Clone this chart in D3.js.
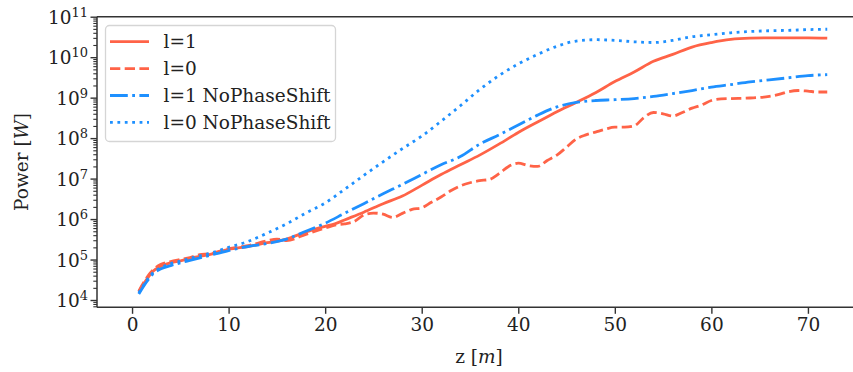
<!DOCTYPE html>
<meta charset='utf-8'>
<head>
  <title>Power vs z</title>
  <style>
    body { margin: 0; background: #fff; }
    svg text { font-family: 'DejaVu Serif', serif; fill: #222; }
  </style>
</head>
<body>
  <div id='chart'></div>
</body>
<script src='https://d3js.org/d3.v7.min.js'></script>
<script>

// z positions [m] and power [W], one pair of arrays per run
var zL1 = [0.7, 1.5, 2.2, 3, 4, 5, 6, 8, 10, 12, 14, 16, 18, 20, 21, 22, 24, 26, 28, 30,
           32, 34, 36, 38, 40, 42, 44, 46, 48, 50, 52, 54, 56, 58, 60, 62, 64, 66, 68, 70, 72];
var pL1 = [1.6e4, 3.2e4, 5.2e4, 6.9e4, 8.3e4, 9.3e4, 1.07e5, 1.32e5, 1.78e5, 2.1e5, 2.6e5, 3.2e5,
           4.8e5, 6.6e5, 7.6e5, 9.5e5, 1.48e6, 2.4e6, 3.7e6, 6.8e6, 1.26e7, 2.2e7, 3.8e7, 7.1e7,
           1.38e8, 2.5e8, 4.5e8, 7.6e8, 1.32e9, 2.5e9, 4.3e9, 7.9e9, 1.17e10, 1.78e10, 2.3e10,
           2.75e10, 2.95e10, 3.0e10, 3.0e10, 3.0e10, 2.95e10];

var zL0 = [0.7, 1.5, 2.2, 3, 4, 5, 6, 7, 8, 10, 12, 14, 15, 16, 18, 20, 21, 22, 23, 24, 25, 26,
           27, 28, 29, 30, 31, 32, 33, 34, 35, 36, 37, 38, 39, 40, 41, 42, 43, 44, 45, 46, 47, 48,
           49, 50, 51, 52, 53, 54, 55, 56, 57, 58, 59, 60, 61, 62, 64, 66, 67, 68, 69, 70, 71, 72];
var pL0 = [1.66e4, 3.5e4, 5.6e4, 7.6e4, 8.9e4, 1.0e5, 1.12e5, 1.32e5, 1.38e5, 1.86e5, 2.2e5,
           2.9e5, 3.2e5, 2.95e5, 4.2e5, 6.0e5, 7.1e5, 7.6e5, 8.7e5, 1.26e6, 1.41e6, 1.32e6, 1.1e6,
           1.38e6, 1.74e6, 1.9e6, 2.6e6, 3.5e6, 5.0e6, 6.6e6, 7.9e6, 8.9e6, 9.5e6, 1.32e7, 2.0e7,
           2.4e7, 2.1e7, 2.0e7, 2.8e7, 3.8e7, 6.0e7, 9.5e7, 1.2e8, 1.41e8, 1.66e8, 1.86e8, 1.86e8,
           2.0e8, 3.2e8, 4.3e8, 4.0e8, 3.5e8, 4.3e8, 5.5e8, 6.6e8, 8.5e8, 9.3e8, 9.5e8, 9.8e8,
           1.07e9, 1.2e9, 1.41e9, 1.5e9, 1.45e9, 1.38e9, 1.38e9];

var zL1NoShift = [0.7, 1.5, 2.2, 3, 4, 5, 6, 8, 10, 12, 14, 16, 18, 20, 22, 24, 26, 28, 30, 32,
                  34, 36, 38, 40, 42, 44, 46, 48, 50, 52, 54, 56, 58, 60, 62, 64, 66, 68, 70, 72];
var pL1NoShift = [1.41e4, 2.8e4, 4.5e4, 5.9e4, 7.1e4, 8.3e4, 9.5e4, 1.26e5, 1.66e5, 2.1e5, 2.5e5,
                  3.2e5, 5.0e5, 7.9e5, 1.38e6, 2.4e6, 4.2e6, 7.2e6, 1.26e7, 2.2e7, 3.5e7, 7.1e7,
                  1.2e8, 2.1e8, 3.7e8, 5.9e8, 7.6e8, 8.5e8, 8.9e8, 9.5e8, 1.07e9, 1.26e9, 1.5e9,
                  1.82e9, 2.1e9, 2.45e9, 2.75e9, 3.1e9, 3.5e9, 3.7e9];

var zL0NoShift = [0.7, 1.5, 2.2, 3, 4, 5, 6, 8, 10, 12, 14, 16, 18, 20, 22, 24, 26, 28, 30, 32,
                  34, 36, 38, 40, 42, 44, 46, 48, 50, 52, 54, 56, 58, 60, 62, 64, 66, 68, 70, 72];
var pL0NoShift = [1.5e4, 3.0e4, 4.8e4, 6.3e4, 7.9e4, 9.1e4, 1.07e5, 1.41e5, 2.0e5, 2.8e5, 4.5e5,
                  7.6e5, 1.41e6, 2.5e6, 5.4e6, 1.2e7, 2.6e7, 5.5e7, 1.12e8, 2.6e8, 6.3e8, 1.58e9,
                  3.5e9, 6.8e9, 1.17e10, 1.86e10, 2.5e10, 2.7e10, 2.6e10, 2.4e10, 2.3e10, 2.6e10,
                  3.2e10, 3.6e10, 4.0e10, 4.3e10, 4.5e10, 4.6e10, 4.8e10, 4.9e10];

var seriesNames = ['l=1', 'l=0', 'l=1 NoPhaseShift', 'l=0 NoPhaseShift'];
var xTicks = [0, 10, 20, 30, 40, 50, 60, 70];
var yExponents = [4, 5, 6, 7, 8, 9, 10, 11];

var width = 853,
    height = 372,
    margin = {left: 97, top: 16.7, bottom: 307.3, right: 862};

var series = [
  {name: seriesNames[0], z: zL1, p: pL1, color: 'tomato', dash: null},
  {name: seriesNames[1], z: zL0, p: pL0, color: 'tomato', dash: '10.3,4.4'},
  {name: seriesNames[2], z: zL1NoShift, p: pL1NoShift, color: 'dodgerblue', dash: '17.8,4.4,2.8,4.4'},
  {name: seriesNames[3], z: zL0NoShift, p: pL0NoShift, color: 'dodgerblue', dash: '2.8,4.6'}
];

var x = d3.scaleLinear().domain([-3.63, 75.6]).range([margin.left, margin.right]);
var y = d3.scaleLog().domain([Math.pow(10, 3.82), 1e11]).range([margin.bottom, margin.top]);

var svg = d3.select('#chart').append('svg')
    .attr('width', width)
    .attr('height', height);

var plot = svg.append('g');

svg.append('clipPath').attr('id', 'clip')
  .append('rect')
    .attr('x', margin.left).attr('y', margin.top)
    .attr('width', margin.right - margin.left)
    .attr('height', margin.bottom - margin.top);

var line = d3.line()
    .x(function(d) { return x(d[0]); })
    .y(function(d) { return y(d[1]); })
    .curve(d3.curveMonotoneX);

plot.selectAll('path.series')
    .data(series)
  .enter().append('path')
    .attr('class', 'series')
    .attr('clip-path', 'url(#clip)')
    .attr('d', function(s) { return line(d3.zip(s.z, s.p)); })
    .attr('fill', 'none')
    .attr('stroke', function(s) { return s.color; })
    .attr('stroke-width', 2.8)
    .attr('stroke-dasharray', function(s) { return s.dash; });

// x axis
var xAxis = svg.append('g')
    .attr('transform', 'translate(0,' + margin.bottom + ')')
    .call(d3.axisBottom(x).tickValues(xTicks).tickSize(6.5).tickPadding(4));
xAxis.select('.domain').remove();
xAxis.selectAll('.tick line').attr('stroke', '#333').attr('stroke-width', 1.4);
xAxis.selectAll('.tick text')
    .attr('font-size', 18.5)
    .attr('font-family', 'DejaVu Serif')
    .attr('fill', '#222');

// y axis, major + minor log ticks
var minor = [];
yExponents.forEach(function(e) {
  for (var m = 2; m < 10; m++) {
    var v = m * Math.pow(10, e - 1);
    if (v >= y.domain()[0] && v <= y.domain()[1]) minor.push(v);
  }
});
var yMinor = svg.append('g')
    .attr('transform', 'translate(' + margin.left + ',0)')
    .call(d3.axisLeft(y).tickValues(minor).tickSize(3.7).tickFormat(''));
yMinor.select('.domain').remove();
yMinor.selectAll('.tick line').attr('stroke', '#333').attr('stroke-width', 1.1);

var yAxis = svg.append('g')
    .attr('transform', 'translate(' + margin.left + ',0)')
    .call(d3.axisLeft(y)
      .tickValues(yExponents.map(function(e) { return Math.pow(10, e); }))
      .tickSize(6.5).tickPadding(9).tickFormat(''));
yAxis.select('.domain').remove();
yAxis.selectAll('.tick line').attr('stroke', '#333').attr('stroke-width', 1.4);
yAxis.selectAll('.tick').each(function(d, i) {
  var t = d3.select(this).append('text')
      .attr('x', -9)
      .attr('y', 6.7)
      .attr('text-anchor', 'end')
      .attr('font-size', 18.5)
      .attr('fill', '#222');
  t.append('tspan').text('10');
  t.append('tspan').attr('font-size', 13).attr('dy', -7).text(yExponents[i]);
});

// spines: left, top, bottom (right one sits outside the picture)
svg.append('path')
    .attr('d', 'M' + margin.left + ',' + margin.top + 'V' + margin.bottom +
               'M' + margin.left + ',' + margin.top + 'H' + width +
               'M' + margin.left + ',' + margin.bottom + 'H' + width)
    .attr('stroke', '#333')
    .attr('stroke-width', 1.5)
    .attr('fill', 'none');

// axis labels
var xl = svg.append('text')
    .attr('x', 479)
    .attr('y', 363)
    .attr('text-anchor', 'middle')
    .attr('font-size', 18.5);
xl.append('tspan').text('z [');
xl.append('tspan').attr('font-style', 'italic').text('m');
xl.append('tspan').text(']');

var yl = svg.append('text')
    .attr('transform', 'translate(28,162) rotate(-90)')
    .attr('text-anchor', 'middle')
    .attr('font-size', 18.5);
yl.append('tspan').text('Power [');
yl.append('tspan').attr('font-style', 'italic').text('W');
yl.append('tspan').text(']');

// legend
var legend = svg.append('g');
legend.append('rect')
    .attr('x', 105.5).attr('y', 25.5)
    .attr('width', 230).attr('height', 116)
    .attr('rx', 4)
    .attr('fill', 'rgba(255,255,255,0.8)')
    .attr('stroke', '#d5d5d5')
    .attr('stroke-width', 1.3);

var rows = legend.selectAll('g.row')
    .data(series)
  .enter().append('g')
    .attr('class', 'row')
    .attr('transform', function(d, i) { return 'translate(0,' + (41.7 + i * 26.9) + ')'; });

rows.append('line')
    .attr('x1', 110).attr('x2', 149)
    .attr('stroke', function(d) { return d.color; })
    .attr('stroke-width', 2.8)
    .attr('stroke-dasharray', function(d) { return d.dash; });

rows.append('text')
    .attr('x', 163.5)
    .attr('y', 6.5)
    .attr('font-size', 18.5)
    .text(function(d) { return d.name; });

</script>
